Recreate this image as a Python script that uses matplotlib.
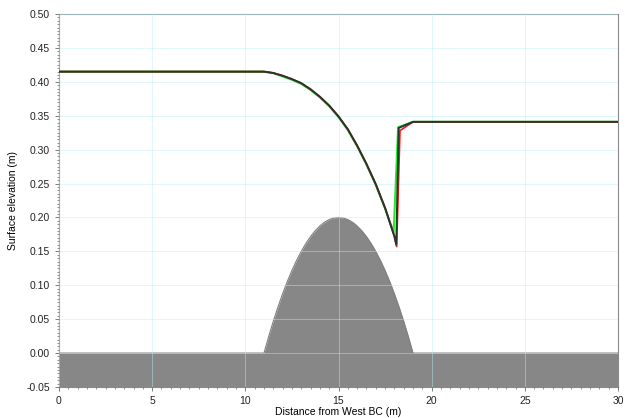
import numpy as np
import matplotlib
matplotlib.use("Agg")
import matplotlib.pyplot as plt
from matplotlib.ticker import MultipleLocator

plt.rcParams['font.family'] = ['Liberation Sans', 'DejaVu Sans']

# bed profile (m)
bed_x = [0, 11.0, 11.25, 11.5, 11.75, 12.0, 12.25, 12.5, 12.75, 13.0, 13.25,
         13.5, 13.75, 14.0, 14.25, 14.5, 14.75, 15.0, 15.25, 15.5, 15.75,
         16.0, 16.25, 16.5, 16.75, 17.0, 17.25, 17.5, 17.75, 18.0, 18.25,
         18.5, 18.75, 19.0, 30]
bed_z = [0, 0.0, 0.0242, 0.0469, 0.0680, 0.0875, 0.1055, 0.1219, 0.1367,
         0.1500, 0.1617, 0.1719, 0.1805, 0.1875, 0.1930, 0.1969, 0.1992,
         0.2000, 0.1992, 0.1969, 0.1930, 0.1875, 0.1805, 0.1719, 0.1617,
         0.1500, 0.1367, 0.1219, 0.1055, 0.0875, 0.0680, 0.0469, 0.0242,
         0.0, 0]

# water surface, three runs
surf_x = [0, 11.0, 11.5, 12.0, 12.5, 13.0, 13.5, 14.0, 14.5, 15.0, 15.5,
          16.0, 16.5, 17.0, 17.5, 18.0, 18.1, 18.23, 19.0, 30]
surf_black = [0.415, 0.415, 0.413, 0.409, 0.404, 0.398, 0.389, 0.378, 0.365,
              0.349, 0.330, 0.306, 0.279, 0.249, 0.214, 0.172, 0.160, 0.332,
              0.341, 0.341]

green_x = [0, 11.0, 11.5, 12.0, 12.5, 13.0, 13.5, 14.0, 14.5, 15.0, 15.5,
           16.0, 16.5, 17.0, 17.5, 17.96, 18.2, 19.0, 30]
surf_green = [0.415, 0.415, 0.413, 0.408, 0.403, 0.397, 0.388, 0.377, 0.364,
              0.348, 0.329, 0.305, 0.278, 0.248, 0.213, 0.178, 0.333, 0.341,
              0.341]

red_x = [0, 11.0, 11.5, 12.0, 12.5, 13.0, 13.5, 14.0, 14.5, 15.0, 15.5,
         16.0, 16.5, 17.0, 17.5, 18.0, 18.12, 18.3, 19.0, 30]
surf_red = [0.415, 0.415, 0.413, 0.409, 0.404, 0.398, 0.389, 0.378, 0.365,
            0.349, 0.330, 0.306, 0.279, 0.249, 0.214, 0.172, 0.157, 0.328,
            0.341, 0.341]

fig = plt.figure(figsize=(6.25, 4.18), dpi=100)
ax = fig.add_axes([0.0944, 0.0742, 0.8944, 0.8923])

ax.fill_between(bed_x, -0.05, bed_z, color='#878787', lw=0, zorder=1)
ax.plot(bed_x, bed_z, color='#808080', lw=0.8, zorder=1)

ax.plot(green_x, surf_green, color='#22ee22', lw=1.5, zorder=3)
ax.plot(red_x, surf_red, color='#e02020', lw=1.2, zorder=4)
ax.plot(surf_x, surf_black, color='#303030', lw=1.4, zorder=5)

ax.set_xlim(0, 30)
ax.set_ylim(-0.05, 0.50)
ax.xaxis.set_major_locator(MultipleLocator(5))
ax.xaxis.set_minor_locator(MultipleLocator(0.5))
ax.yaxis.set_major_locator(MultipleLocator(0.05))
ax.yaxis.set_minor_locator(MultipleLocator(0.005))
ax.set_yticklabels(['%.2f' % v for v in ax.get_yticks()])

ax.grid(True, which='major', color='#b8eef4', alpha=0.45, lw=0.7, zorder=2)
ax.set_axisbelow(False)

for s in ax.spines.values():
    s.set_color('#8a8a8a')
    s.set_linewidth(0.8)
ax.tick_params(which='both', labelsize=7.5, colors='#666666', labelcolor='#222222')
ax.tick_params(which='major', length=3, width=0.6)
ax.tick_params(which='minor', length=1.5, width=0.5)

ax.set_xlabel('Distance from West BC (m)', fontsize=7.5, labelpad=1)
ax.set_ylabel('Surface elevation (m)', fontsize=7.5, labelpad=6)

fig.savefig('out.png', dpi=100)
